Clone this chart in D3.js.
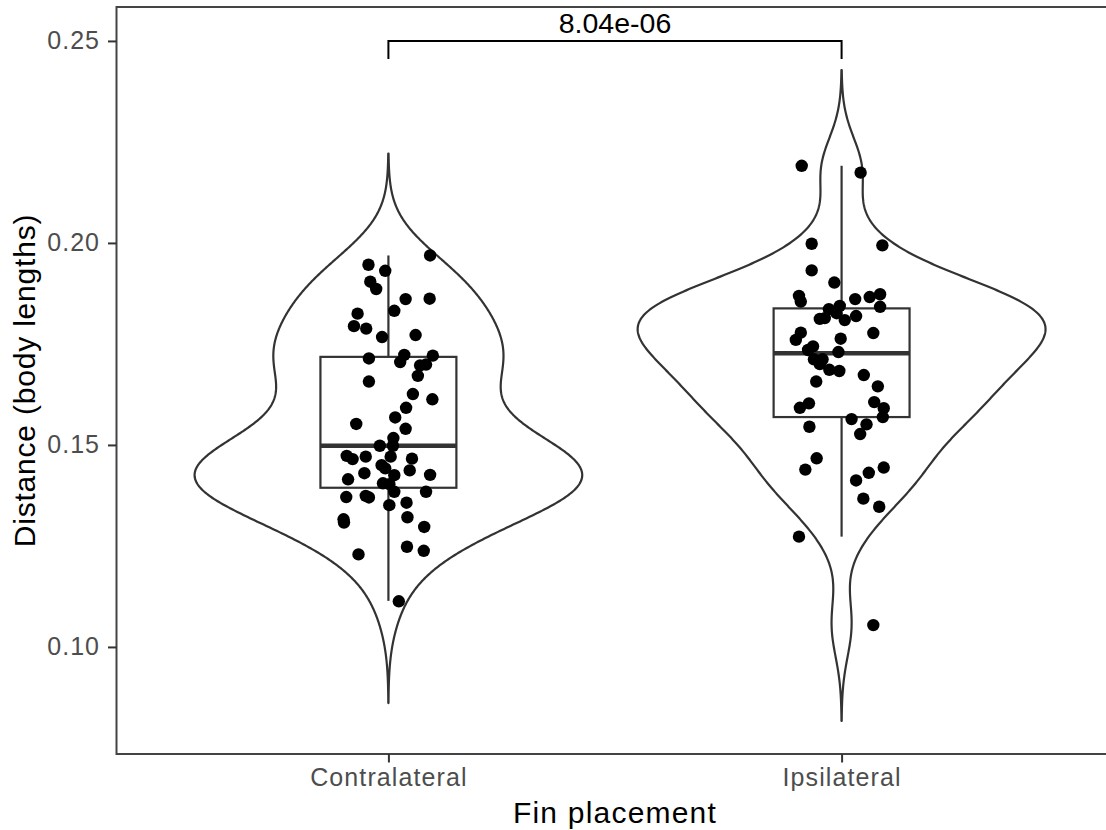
<!DOCTYPE html>
<html>
<head>
<meta charset="utf-8">
<script src="https://cdn.jsdelivr.net/npm/d3@7"></script>
<style>
  html, body { margin: 0; padding: 0; background: #ffffff; overflow: hidden; }
  svg { display: block; overflow: hidden; }
  text { font-family: "Liberation Sans", Arial, Helvetica, sans-serif; }
</style>
</head>
<body>
<svg id="chart" width="1106" height="830"></svg>
<script>
// ---- data ----
const categories = ["Contralateral", "Ipsilateral"];

// Distance (body lengths) per fish, contralateral fin placement
const contralateral = [
  0.1969, 0.1946, 0.1931, 0.1904, 0.1886, 0.1861, 0.1862, 0.1832, 0.1825, 0.1794,
  0.1788, 0.1767, 0.1772, 0.1714, 0.1723, 0.1705, 0.1721, 0.1697, 0.1699, 0.1671,
  0.1657, 0.1626, 0.1613, 0.1592, 0.1568, 0.1552, 0.1540, 0.1517, 0.1498, 0.1498,
  0.1473, 0.1465, 0.1471, 0.1471, 0.1466, 0.1450, 0.1442, 0.1430, 0.1437, 0.1426,
  0.1415, 0.1425, 0.1405, 0.1403, 0.1384, 0.1384, 0.1371, 0.1374, 0.1370, 0.1357,
  0.1351, 0.1316, 0.1308, 0.1321, 0.1297, 0.1248, 0.1238, 0.1229, 0.1113
];
// horizontal jitter of each point, as a fraction of the category step
const contraJitter = [
   0.092, -0.044, -0.007, -0.040, -0.027,  0.038,  0.091,  0.013, -0.068, -0.076,
  -0.049, -0.014,  0.060, -0.043,  0.035,  0.026,  0.098,  0.070,  0.083,  0.065,
  -0.043,  0.054,  0.097,  0.039,  0.015, -0.071,  0.038,  0.011, -0.019,  0.010,
  -0.092, -0.079, -0.050,  0.005,  0.052, -0.015, -0.007, -0.053,  0.047,  0.092,
  -0.089,  0.013, -0.012,  0.002,  0.013,  0.083, -0.093, -0.050, -0.043,  0.040,
   0.002, -0.099, -0.098,  0.042,  0.079,  0.041,  0.078, -0.066,  0.023
];

// Distance (body lengths) per fish, ipsilateral fin placement
const ipsilateral = [
  0.2191, 0.2174, 0.1998, 0.1994, 0.1932, 0.1902, 0.1869, 0.1855, 0.1861, 0.1866,
  0.1873, 0.1842, 0.1836, 0.1844, 0.1812, 0.1814, 0.1826, 0.1809, 0.1819, 0.1778,
  0.1760, 0.1763, 0.1777, 0.1744, 0.1730, 0.1735, 0.1712, 0.1712, 0.1700, 0.1686,
  0.1683, 0.1657, 0.1673, 0.1645, 0.1592, 0.1603, 0.1606, 0.1591, 0.1569, 0.1564,
  0.1551, 0.1527, 0.1545, 0.1467, 0.1439, 0.1444, 0.1431, 0.1412, 0.1367, 0.1347,
  0.1273, 0.1054
];
const ipsiJitter = [
  -0.088,  0.042, -0.066,  0.090, -0.066, -0.016, -0.094, -0.090,  0.030,  0.062,
   0.085,  0.085, -0.028, -0.004, -0.048, -0.037, -0.011,  0.007,  0.032, -0.090,
  -0.101, -0.002,  0.070, -0.063, -0.007, -0.074, -0.061, -0.042, -0.048, -0.027,
  -0.005, -0.056,  0.049,  0.080, -0.092, -0.072,  0.072,  0.093,  0.091,  0.022,
   0.055,  0.041, -0.071, -0.055, -0.080,  0.093,  0.060,  0.032,  0.048,  0.083,
  -0.094,  0.070
];

// box summaries: [lower whisker, Q1, median, Q3, upper whisker]
const contraBox = [0.1114, 0.1394, 0.1498, 0.1718, 0.1969];
const ipsiBox   = [0.1273, 0.1569, 0.1727, 0.1838, 0.2191];

// kernel bandwidths used for the violin densities
const bandwidths = [0.0084, 0.0079];

const yTicks = [0.10, 0.15, 0.20, 0.25];
const yDomain = [0.0735, 0.2584];

// significance bracket between the two groups
const bracketY = 0.25;
const bracketTip = 0.0045;
const pLabel = "8.04e-06";

const xTitle = "Fin placement";
const yTitle = "Distance (body lengths)";

// ---- layout ----
const svg = d3.select("#chart");
const panel = { left: 116.5, right: 1113.5, top: 7, bottom: 754 };

const x = d3.scalePoint().domain(categories).range([panel.left, panel.right]).padding(0.6);
const step = x.step();
const y = d3.scaleLinear().domain(yDomain).range([panel.bottom, panel.top]);

const groups = [
  { name: categories[0], values: contralateral, jitter: contraJitter, box: contraBox, bw: bandwidths[0] },
  { name: categories[1], values: ipsilateral,   jitter: ipsiJitter,   box: ipsiBox,   bw: bandwidths[1] }
];

// Gaussian kernel density over [min - 3bw, max + 3bw], like a non-trimmed violin
function kde(values, bw) {
  const lo = d3.min(values) - 3 * bw, hi = d3.max(values) + 3 * bw;
  const n = 512, out = [];
  const norm = 1 / (values.length * bw * Math.sqrt(2 * Math.PI));
  for (let i = 0; i < n; i++) {
    const t = lo + (hi - lo) * i / (n - 1);
    let s = 0;
    for (const v of values) { const u = (t - v) / bw; s += Math.exp(-0.5 * u * u); }
    out.push({ v: t, d: s * norm });
  }
  return out;
}
groups.forEach(g => { g.dens = kde(g.values, g.bw); });
const maxD = d3.max(groups, g => d3.max(g.dens, p => p.d));
const halfMax = 0.45 * step;

const ink = "#333333";
const plot = svg.append("g");

// violins
groups.forEach(g => {
  const cx = x(g.name);
  const area = d3.area()
    .y(p => y(p.v))
    .x0(p => cx - p.d / maxD * halfMax)
    .x1(p => cx + p.d / maxD * halfMax);
  plot.append("path")
    .attr("d", area(g.dens))
    .attr("fill", "#ffffff")
    .attr("stroke", ink)
    .attr("stroke-width", 2.2)
    .attr("stroke-linejoin", "round");
});

// boxplots
const boxHalf = 0.15 * step;
groups.forEach(g => {
  const cx = x(g.name);
  const [lw, q1, med, q3, uw] = g.box;
  const b = plot.append("g");
  b.append("line").attr("x1", cx).attr("x2", cx).attr("y1", y(q3)).attr("y2", y(uw))
    .attr("stroke", ink).attr("stroke-width", 2.2);
  b.append("line").attr("x1", cx).attr("x2", cx).attr("y1", y(q1)).attr("y2", y(lw))
    .attr("stroke", ink).attr("stroke-width", 2.2);
  b.append("rect")
    .attr("x", cx - boxHalf).attr("width", 2 * boxHalf)
    .attr("y", y(q3)).attr("height", y(q1) - y(q3))
    .attr("fill", "#ffffff").attr("stroke", ink).attr("stroke-width", 2.2);
  b.append("line").attr("x1", cx - boxHalf).attr("x2", cx + boxHalf)
    .attr("y1", y(med)).attr("y2", y(med))
    .attr("stroke", ink).attr("stroke-width", 4.6);
});

// jittered points
groups.forEach(g => {
  const cx = x(g.name);
  plot.append("g").selectAll("circle")
    .data(g.values.map((v, i) => ({ v, j: g.jitter[i] })))
    .join("circle")
    .attr("cx", d => cx + d.j * step)
    .attr("cy", d => y(d.v))
    .attr("r", 6.2)
    .attr("fill", "#000000");
});

// panel border (its right side lies past the drawing area)
svg.append("path")
  .attr("d", d3.line()([
    [panel.right, panel.top], [panel.left, panel.top],
    [panel.left, panel.bottom], [panel.right, panel.bottom]
  ]))
  .attr("fill", "none").attr("stroke", "#444444").attr("stroke-width", 2);

// significance bracket
const bx1 = x(categories[0]), bx2 = x(categories[1]);
svg.append("path")
  .attr("d", d3.line()([
    [bx1, y(bracketY - bracketTip)], [bx1, y(bracketY)],
    [bx2, y(bracketY)], [bx2, y(bracketY - bracketTip)]
  ]))
  .attr("fill", "none").attr("stroke", "#000000").attr("stroke-width", 2);
svg.append("text")
  .attr("x", (bx1 + bx2) / 2).attr("y", y(bracketY) - 8)
  .attr("text-anchor", "middle")
  .attr("font-size", 28.5).attr("fill", "#000000")
  .text(pLabel);

// y axis
const yAxis = svg.append("g")
  .attr("transform", `translate(${panel.left},0)`)
  .call(d3.axisLeft(y).tickValues(yTicks).tickFormat(d3.format(".2f")).tickSize(8.5).tickPadding(8));
yAxis.select(".domain").remove();
yAxis.selectAll(".tick line").attr("stroke", ink).attr("stroke-width", 2);
yAxis.selectAll(".tick text")
  .attr("fill", "#4d4d4d").attr("font-size", 25).attr("letter-spacing", 1)
  .attr("font-family", "'Liberation Sans', Arial, sans-serif");

// x axis
const xAxis = svg.append("g")
  .attr("transform", `translate(0,${panel.bottom})`)
  .call(d3.axisBottom(x).tickSize(8.5).tickPadding(6));
xAxis.select(".domain").remove();
xAxis.selectAll(".tick line").attr("stroke", ink).attr("stroke-width", 2);
xAxis.selectAll(".tick text")
  .attr("fill", "#4d4d4d").attr("font-size", 25).attr("letter-spacing", 1.1)
  .attr("font-family", "'Liberation Sans', Arial, sans-serif");

// axis titles
svg.append("text")
  .attr("x", (panel.left + panel.right) / 2).attr("y", 823)
  .attr("text-anchor", "middle").attr("font-size", 30).attr("letter-spacing", 1.2)
  .attr("fill", "#000000").text(xTitle);
svg.append("text")
  .attr("transform", `translate(35,${(panel.top + panel.bottom) / 2}) rotate(-90)`)
  .attr("text-anchor", "middle").attr("font-size", 30).attr("letter-spacing", 0.8)
  .attr("fill", "#000000").text(yTitle);
</script>
</body>
</html>
